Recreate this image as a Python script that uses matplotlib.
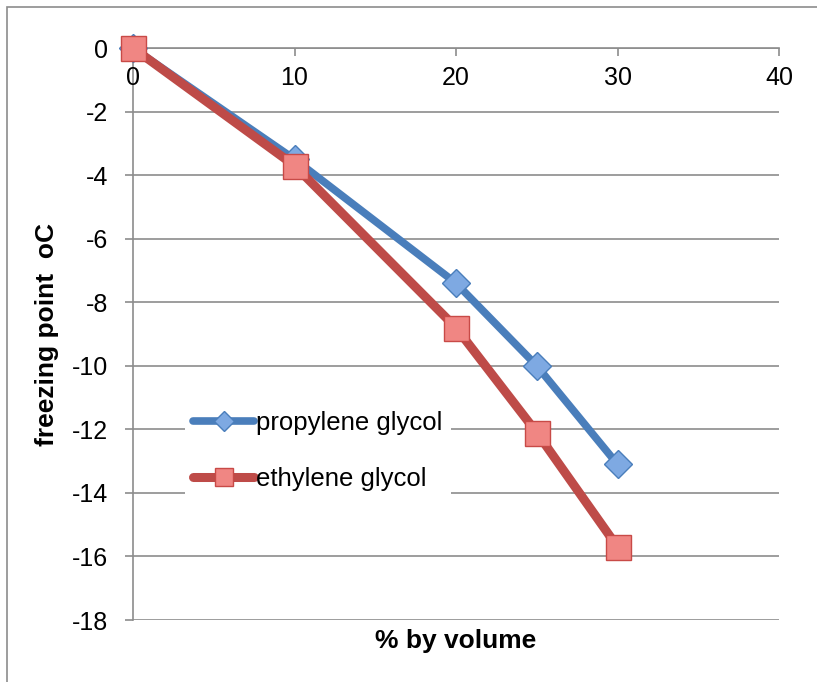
import matplotlib
matplotlib.use('Agg')
import matplotlib.pyplot as plt
from matplotlib.patches import Rectangle

plt.rcParams['font.family'] = ['Liberation Sans', 'DejaVu Sans']
plt.rcParams['axes.unicode_minus'] = False

# data
volume = [0, 10, 20, 25, 30]
propylene = [0, -3.5, -7.4, -10.0, -13.1]
ethylene = [0, -3.7, -8.8, -12.1, -15.7]
xticks = [0, 10, 20, 30, 40]

blue = '#4a7ebb'
red = '#be4b48'
grey = '#8c8c8c'

fig = plt.figure(figsize=(8.17, 6.82), dpi=100)
ax = fig.add_axes([0.1628, 0.0909, 0.7907, 0.8387])

# outer chart border (only top/left are inside the picture)
fig.patches.append(Rectangle((7 / 817, -0.1), 1.2, 1.1 - 7 / 682,
                             transform=fig.transFigure, fill=False,
                             edgecolor=grey, lw=1.2, zorder=0))

ax.plot(volume, propylene, color=blue, lw=5.5, marker='D', ms=14,
        mfc='#7ea9e2', mec='#4a7ebb', mew=1, zorder=3, clip_on=False,
        solid_capstyle='round', label='propylene glycol')
ax.plot(volume, ethylene, color=red, lw=6.5, marker='s', ms=18,
        mfc='#f08683', mec='#c84a47', mew=1, zorder=4, clip_on=False,
        solid_capstyle='round', label='ethylene glycol')

ax.set_xlim(0, 40)
ax.set_ylim(-18, 0)
ax.set_yticks(range(-18, 1, 2))
ax.set_xticks(xticks)
ax.yaxis.grid(True, color=grey, lw=1.2)
ax.set_axisbelow(True)

for s in ['right', 'bottom']:
    ax.spines[s].set_visible(False)
for s in ['left', 'top']:
    ax.spines[s].set_color(grey)
    ax.spines[s].set_linewidth(1.2)

ax.xaxis.set_ticks_position('top')
ax.tick_params(axis='x', direction='in', length=6, width=1.2, color=grey,
               labeltop=False, labelbottom=False)
ax.tick_params(axis='y', direction='out', length=6, width=1.2, color=grey,
               labelsize=18, pad=12)
for x in xticks:
    ax.text(x, -0.95, str(x), ha='center', va='center', fontsize=18)

fig.text(456 / 817, 1 - 648 / 682, '% by volume', ha='center', va='baseline',
         fontsize=19, fontweight='bold')
fig.text(47 / 817, 1 - 335 / 682, 'freezing point  oC', ha='center', va='center',
         rotation=90, fontsize=19, fontweight='bold')

leg = ax.legend(loc='center left', bbox_to_anchor=(185 / 817, 1 - 451 / 682),
                bbox_transform=fig.transFigure, frameon=True,
                fontsize=18.5, handlelength=2.4, handletextpad=0.08,
                borderpad=0.3, labelspacing=1.25, markerscale=0.75,
                borderaxespad=0)
leg.get_frame().set_edgecolor('none')
leg.get_frame().set_facecolor('white')
leg.get_frame().set_alpha(1)
leg.get_frame().set_boxstyle('square', pad=0)

fig.savefig('out.png', dpi=100)
